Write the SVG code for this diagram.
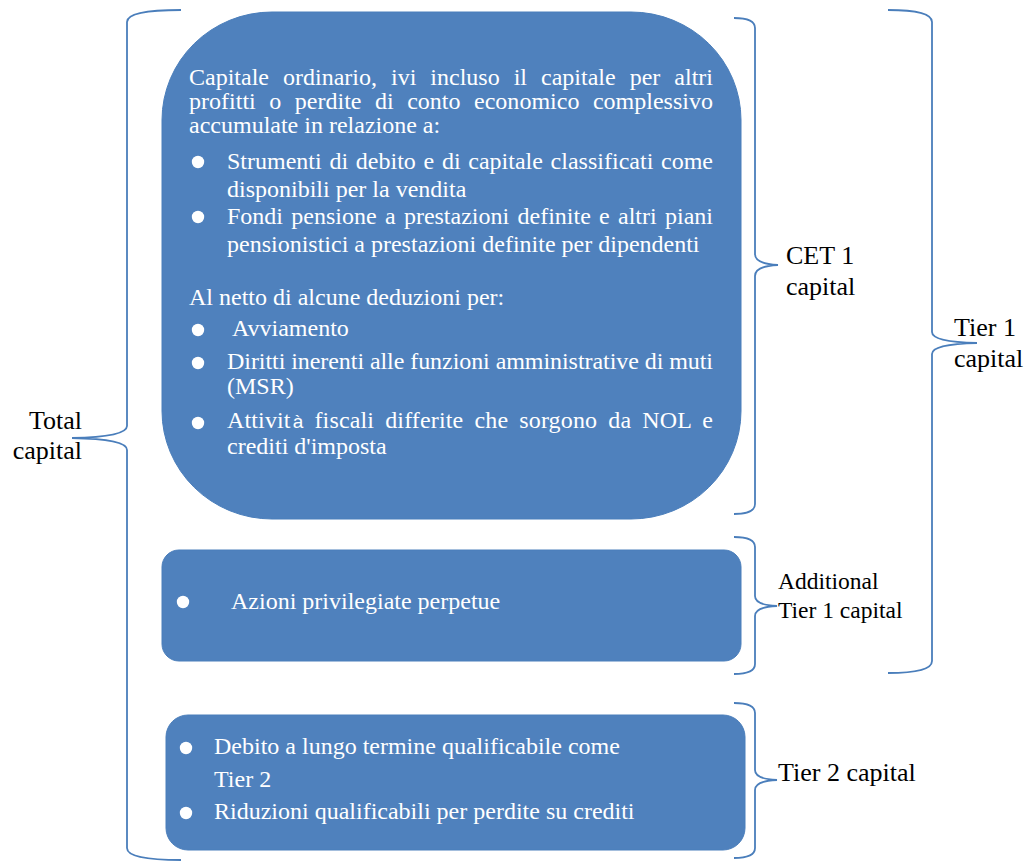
<svg xmlns="http://www.w3.org/2000/svg" width="1030" height="862" viewBox="0 0 1030 862">
<style>
.box{fill:#4F81BD;stroke:#4A7EBB;stroke-width:1}
.t{font-family:"Liberation Serif","Times New Roman",serif;font-size:24px;fill:#FFFFFF}
.lab{font-family:"Liberation Serif","Times New Roman",serif;font-size:26px;fill:#000000}
.lab2{font-family:"Liberation Serif","Times New Roman",serif;font-size:23.5px;fill:#000000}
.dot{fill:#FFFFFF}
.brace{fill:none;stroke:#4A7EBB;stroke-width:1.8}
</style>
<rect width="1030" height="862" fill="#FFFFFF"/>
<g id="connectors">
<path class="brace" d="M181,10 Q127,10 127,22 L127,426 Q127,437 72,438 Q127,439 127,450 L127,848 Q127,860 181,860"/>
<path class="brace" d="M734,18 Q755,18 755,28 L755,254 Q755,264 778,265 Q755,266 755,276 L755,504 Q755,514 734,514"/>
<path class="brace" d="M734,537 Q755,537 755,547 L755,596 Q755,605 777,606 Q755,607 755,616 L755,664 Q755,674 734,674"/>
<path class="brace" d="M888,10 Q932,10 932,22 L932,332 Q932,342 977,343 Q932,344 932,354 L932,661 Q932,673 888,673"/>
<path class="brace" d="M734,703 Q755,703 755,713 L755,770 Q755,779 777,780 Q755,781 755,790 L755,848 Q755,858 734,858"/>
</g>
<g id="cet1-box">
<rect class="box" x="162" y="12" width="579" height="507" rx="110" ry="108"/>
<text class="t" x="189" y="85" word-spacing="8" textLength="524">Capitale ordinario, ivi incluso il capitale per altri</text>
<text class="t" x="189" y="109" word-spacing="7.5" textLength="524">profitti o perdite di conto economico complessivo</text>
<text class="t" x="189" y="133">accumulate in relazione a:</text>
<circle class="dot" cx="198" cy="162" r="6.2"/>
<text class="t" x="227" y="169" word-spacing="1.7" textLength="486">Strumenti di debito e di capitale classificati come</text>
<text class="t" x="227" y="197">disponibili per la vendita</text>
<circle class="dot" cx="198" cy="217" r="6.2"/>
<text class="t" x="227" y="224" word-spacing="2.3" textLength="486">Fondi pensione a prestazioni definite e altri piani</text>
<text class="t" x="227" y="252">pensionistici a prestazioni definite per dipendenti</text>
<text class="t" x="189" y="305">Al netto di alcune deduzioni per:</text>
<circle class="dot" cx="198" cy="330" r="6.2"/>
<text class="t" x="232" y="336">Avviamento</text>
<circle class="dot" cx="198" cy="363" r="6.2"/>
<text class="t" x="227" y="369" textLength="486">Diritti inerenti alle funzioni amministrative di muti</text>
<text class="t" x="227" y="394">(MSR)</text>
<circle class="dot" cx="198" cy="423" r="6.2"/>
<text class="t" x="227" y="428" word-spacing="5" textLength="486">Attivit<tspan dx="2" font-family="Liberation Sans, Arial, sans-serif" font-size="19px">à</tspan> fiscali differite che sorgono da NOL e</text>
<text class="t" x="227" y="454">crediti d'imposta</text>
</g>
<g id="at1-box">
<rect class="box" x="162" y="550" width="579" height="111" rx="17" ry="17"/>
<circle class="dot" cx="183" cy="602" r="6.2"/>
<text class="t" x="231" y="608.5">Azioni privilegiate perpetue</text>
</g>
<g id="tier2-box">
<rect class="box" x="166" y="715" width="579" height="135" rx="22" ry="22"/>
<circle class="dot" cx="186" cy="748" r="6.2"/>
<text class="t" x="214" y="753.5">Debito a lungo termine qualificabile come</text>
<text class="t" x="214" y="786.5">Tier 2</text>
<circle class="dot" cx="186" cy="813" r="6.2"/>
<text class="t" x="214" y="819">Riduzioni qualificabili per perdite su crediti</text>
</g>
<g id="labels">
<text class="lab" x="82" y="429" text-anchor="end">Total</text>
<text class="lab" x="82" y="459" text-anchor="end">capital</text>
<text class="lab" x="786" y="264">CET 1</text>
<text class="lab" x="786" y="295">capital</text>
<text class="lab" x="954" y="336">Tier 1</text>
<text class="lab" x="954" y="367">capital</text>
<text class="lab2" x="778" y="589">Additional</text>
<text class="lab2" x="778" y="618">Tier 1 capital</text>
<text class="lab" x="778" y="781">Tier 2 capital</text>
</g>
</svg>
